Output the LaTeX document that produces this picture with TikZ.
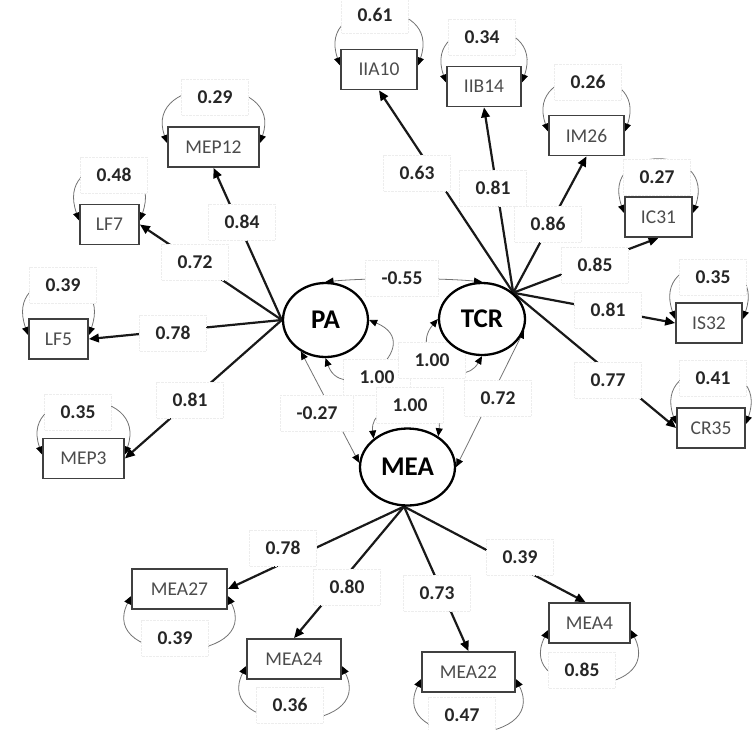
\documentclass[tikz,border=0pt]{standalone}
\usepackage{fontspec}
\setmainfont{Carlito}
\usetikzlibrary{arrows.meta,shapes.geometric,calc}

\pgfdeclarelayer{lines}
\pgfdeclarelayer{labels}
\pgfsetlayers{lines,labels,main}

\begin{document}
\begin{tikzpicture}[x=1pt,y=-1pt,
  obs/.style={draw=black!75, line width=1.7pt, fill=white, minimum height=40pt,
    inner sep=0pt, font=\fontsize{19.5}{20}\selectfont, text=black!70},
  lat/.style={ellipse, draw=black, line width=2.3pt, fill=white, inner sep=0pt,
    font=\fontsize{27}{28}\selectfont\bfseries},
  lbl/.style={fill=white, draw=black!7, densely dotted, line width=0.4pt,
    minimum height=36pt, inner xsep=16pt, inner ysep=0pt,
    font=\fontsize{19.5}{20}\selectfont\bfseries, text=black!85},
  load/.style={line width=2.2pt, draw=black!90,
    -{Triangle[length=10pt,width=8.5pt,color=black]}},
  var/.style={line width=0.8pt, draw=black!55,
    {Triangle[length=8pt,width=7pt,color=black]}-{Triangle[length=8pt,width=7pt,color=black]}},
  cov/.style={var}]
\useasboundingbox (0,0) rectangle (752,729);

% latent variables
\node[lat, minimum width=85pt, minimum height=74pt] (PA)  at (325.5,320) {PA};
\node[lat, minimum width=86pt, minimum height=72pt] (TCR) at (482,319)   {TCR};
\node[lat, minimum width=95pt, minimum height=77pt] (MEA) at (407.5,467) {MEA};

% indicators of PA
\node[obs, minimum width=91pt] (MEP12) at (213.5,147)  {MEP12};
\node[obs, minimum width=59pt] (LF7)   at (109.5,224.5) {LF7};
\node[obs, minimum width=59pt] (LF5)   at (58.5,339)   {LF5};
\node[obs, minimum width=81pt] (MEP3)  at (83.5,458.5) {MEP3};
% indicators of TCR
\node[obs, minimum width=76pt] (IIA10) at (379,69.5)   {IIA10};
\node[obs, minimum width=74pt] (IIB14) at (484,86.5)   {IIB14};
\node[obs, minimum width=75pt] (IM26)  at (586.5,135.5) {IM26};
\node[obs, minimum width=67pt] (IC31)  at (658.5,217)  {IC31};
\node[obs, minimum width=66pt] (IS32)  at (709,323)    {IS32};
\node[obs, minimum width=68pt] (CR35)  at (711,428)    {CR35};
% indicators of MEA
\node[obs, minimum width=95pt] (MEA27) at (179.5,589)  {MEA27};
\node[obs, minimum width=94pt] (MEA24) at (294,659)    {MEA24};
\node[obs, minimum width=93pt] (MEA22) at (468.5,672)  {MEA22};
\node[obs, minimum width=81pt] (MEA4)  at (589.5,623)  {MEA4};

% hubs where the loadings leave the latent variables
\coordinate (pahub)  at (PA.west);
\coordinate (tcrhub) at (TCR.north east);
\coordinate (meahub) at (MEA.265);

\begin{pgfonlayer}{lines}
% factor loadings
\draw[load] (pahub) -- (MEP12.south);
\draw[load] (pahub) -- (LF7.east);
\draw[load] (pahub) -- (LF5.east);
\draw[load] (pahub) -- (MEP3.east);
\draw[load] (tcrhub) -- (IIA10.south);
\draw[load] (tcrhub) -- (IIB14.south);
\draw[load] (tcrhub) -- (IM26.south);
\draw[load] (tcrhub) -- (IC31.south);
\draw[load] (tcrhub) -- (IS32.west);
\draw[load] (tcrhub) -- (CR35.west);
\draw[load] (meahub) -- (MEA27.east);
\draw[load] (meahub) -- (MEA24.north);
\draw[load] (meahub) -- (MEA22.north);
\draw[load] (meahub) -- ([xshift=-4pt]MEA4.north);

% error variances above the boxes
\foreach \b in {MEP12,LF7,LF5,MEP3,IIA10,IIB14,IM26,IC31,IS32,CR35}
  \draw[var] ([yshift=4pt]\b.west) .. controls +(-25,-70) and +(25,-70) .. ([yshift=4pt]\b.east);
% error variances below the boxes
\foreach \b in {MEA27,MEA24,MEA22,MEA4}
  \draw[var] ([yshift=-7pt]\b.west) .. controls +(-35,70) and +(35,70) .. ([yshift=-7pt]\b.east);

% latent variances
\draw[var] (PA.south) .. controls +(18,50) and +(60,25) .. (PA.east);
\draw[var] (TCR.south) .. controls +(-20,35) and +(-30,35) .. (TCR.west);
\draw[var] (MEA.140) .. controls +(-5,-40) and +(5,-40) .. (MEA.45);

% covariances
\draw[cov] (PA.north) .. controls +(40,-4) and +(-40,-4) .. (TCR.north);
\draw[cov] (PA.232) -- (MEA.175);
\draw[cov] (TCR.-15) -- (MEA.east);
\end{pgfonlayer}

\begin{pgfonlayer}{labels}
% loading labels
\node[lbl] (lMEP12) at (242,222) {0.84};
\node[lbl] (lLF7)   at (195,262) {0.72};
\node[lbl] (lLF5)   at (173,333) {0.78};
\node[lbl] (lMEP3)  at (190,400) {0.81};
\node[lbl] (lIIA10) at (417,173) {0.63};
\node[lbl] (lIIB14) at (493,188) {0.81};
\node[lbl] (lIM26)  at (548,224) {0.86};
\node[lbl] (lIC31)  at (595,265) {0.85};
\node[lbl] (lIS32)  at (608,310) {0.81};
\node[lbl] (lCR35)  at (608,380) {0.77};
\node[lbl] (lMEA27) at (283,548) {0.78};
\node[lbl] (lMEA24) at (347,587) {0.80};
\node[lbl] (lMEA22) at (437,593) {0.73};
\node[lbl] (lMEA4)  at (520,557) {0.39};

% error variance labels
\node[lbl] (eMEP12) at (215,97)  {0.29};
\node[lbl] (eLF7)   at (114,175) {0.48};
\node[lbl] (eLF5)   at (63,285)  {0.39};
\node[lbl] (eMEP3)  at (78,412)  {0.35};
\node[lbl] (eIIA10) at (375,15)  {0.61};
\node[lbl] (eIIB14) at (482,37)  {0.34};
\node[lbl] (eIM26)  at (588,82)  {0.26};
\node[lbl] (eIC31)  at (657,177) {0.27};
\node[lbl] (eIS32)  at (713,277) {0.35};
\node[lbl] (eCR35)  at (713,378) {0.41};
\node[lbl] (eMEA27) at (175,638) {0.39};
\node[lbl] (eMEA24) at (290,705) {0.36};
\node[lbl] (eMEA22) at (462,715) {0.47};
\node[lbl] (eMEA4)  at (582,670) {0.85};

% latent variance and covariance labels
\node[lbl] (vPA)    at (377,377) {1.00};
\node[lbl] (vTCR)   at (432,360) {1.00};
\node[lbl] (vMEA)   at (410,405) {1.00};
\node[lbl] (cPATCR) at (402,278) {-0.55};
\node[lbl] (cPAMEA) at (317,413) {-0.27};
\node[lbl] (cTCRMEA) at (498,398) {0.72};
\end{pgfonlayer}
\end{tikzpicture}
\end{document}
